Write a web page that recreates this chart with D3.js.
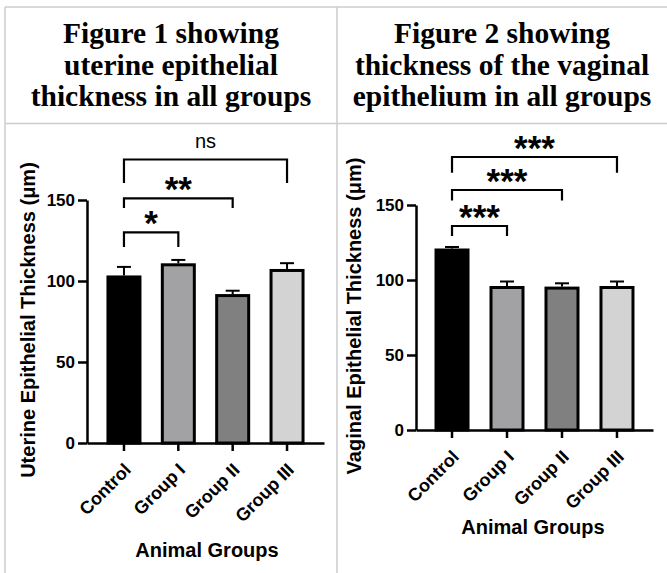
<!DOCTYPE html>
<html>
<head>
<meta charset="utf-8">
<script src="https://cdn.jsdelivr.net/npm/d3@7"></script>
<style>
  html, body { margin: 0; padding: 0; background: #fff; }
  svg { display: block; }
  .hdr { font-family: "Liberation Serif", "Times New Roman", serif; font-weight: bold; font-size: 29.5px; fill: #000; }
  .ax text { font-family: "Liberation Sans", Arial, sans-serif; font-weight: bold; font-size: 17px; fill: #000; }
  .lab { font-family: "Liberation Sans", Arial, sans-serif; font-weight: bold; fill: #000; }
</style>
</head>
<body>
<script>
// ---------------- data ----------------
const categories = ["Control", "Group I", "Group II", "Group III"];
const barColors = ["#000000", "#a2a2a5", "#808080", "#d3d3d3"];
const yTicks = [0, 50, 100, 150];

// Figure 1: uterine epithelial thickness (mean, upper error)
const uterineMean = [102.5, 110, 91, 106.5];
const uterineErr  = [6.2, 3, 3, 4.5];
// significance brackets: [from, to, bracket level, drop level, label]
const uterineSig = [
  ["Control", "Group I",   130, 121, "*"],
  ["Control", "Group II",  151, 145, "**"],
  ["Control", "Group III", 175, 160.5, "ns"]
];

// Figure 2: vaginal epithelial thickness
const vaginalMean = [120, 95, 94.6, 95];
const vaginalErr  = [2, 4, 3.2, 4];
const vaginalSig = [
  ["Control", "Group I",   136, 129.3, "***"],
  ["Control", "Group II",  160, 153, "***"],
  ["Control", "Group III", 182, 171.5, "***"]
];

const headers = [
  ["Figure 1 showing", "uterine epithelial", "thickness in all groups"],
  ["Figure 2 showing", "thickness of the vaginal", "epithelium in all groups"]
];
const yTitles = ["Uterine Epithelial Thickness (\u03bcm)", "Vaginal Epithelial Thickness (\u03bcm)"];
const xTitle = "Animal Groups";

// ---------------- drawing ----------------
const W = 667, H = 573;
const svg = d3.select("body").append("svg").attr("width", W).attr("height", H);

// table borders
const border = "#cccccc";
const gB = svg.append("g").attr("stroke", border).attr("stroke-width", 1.5);
gB.append("line").attr("x1", 5).attr("x2", W).attr("y1", 7).attr("y2", 7);
gB.append("line").attr("x1", 5).attr("x2", W).attr("y1", 123.5).attr("y2", 123.5);
gB.append("line").attr("x1", 5).attr("x2", 5).attr("y1", 7).attr("y2", H);
gB.append("line").attr("x1", 337).attr("x2", 337).attr("y1", 7).attr("y2", H);

// headers
const hdrCenters = [171, 502];
const hdrBase = [43, 75, 106];
headers.forEach((lines, i) => {
  lines.forEach((t, j) => {
    svg.append("text").attr("class", "hdr")
      .attr("x", hdrCenters[i]).attr("y", hdrBase[j])
      .attr("text-anchor", "middle").text(t);
  });
});

function drawChart(cfg) {
  const g = svg.append("g");
  const y = d3.scaleLinear().domain([0, 150]).range([cfg.y0, cfg.y150]);
  const x = d3.scaleBand().domain(categories).range([cfg.xL, cfg.xR])
    .paddingInner(0).paddingOuter(cfg.po);
  const cx = d => x(d) + x.bandwidth() / 2;

  // bars
  const barW = 32;
  g.selectAll("rect.bar").data(cfg.mean).join("rect")
    .attr("x", (d, i) => cx(categories[i]) - barW / 2)
    .attr("y", d => y(d))
    .attr("width", barW)
    .attr("height", d => y(0) - y(d))
    .attr("fill", (d, i) => barColors[i])
    .attr("stroke", "#000").attr("stroke-width", 3);

  // error bars (upper only)
  cfg.mean.forEach((m, i) => {
    const c = cx(categories[i]);
    g.append("line").attr("x1", c).attr("x2", c)
      .attr("y1", y(m) - 1.5).attr("y2", y(m + cfg.err[i]))
      .attr("stroke", "#000").attr("stroke-width", 2);
    g.append("line").attr("x1", c - 7).attr("x2", c + 7)
      .attr("y1", y(m + cfg.err[i])).attr("y2", y(m + cfg.err[i]))
      .attr("stroke", "#000").attr("stroke-width", 2);
  });

  // y axis
  const ya = g.append("g").attr("class", "ax")
    .attr("transform", `translate(${cfg.xL},0)`)
    .call(d3.axisLeft(y).tickValues(yTicks).tickSize(9).tickSizeOuter(0).tickPadding(3));
  ya.selectAll("path,line").attr("stroke", "#000").attr("stroke-width", 2.5);

  // x axis
  const xa = g.append("g").attr("class", "ax")
    .attr("transform", `translate(0,${cfg.y0})`)
    .call(d3.axisBottom(x).tickSize(8).tickSizeOuter(0).tickFormat(""));
  xa.selectAll("path,line").attr("stroke", "#000").attr("stroke-width", 2.5);

  // x tick labels rotated
  categories.forEach(c => {
    g.append("text").attr("class", "lab").style("font-size", "18px")
      .attr("text-anchor", "end")
      .attr("transform", `translate(${cx(c) + 8},${cfg.y0 + 28}) rotate(-45)`)
      .text(c);
  });

  // titles
  g.append("text").attr("class", "lab").style("font-size", "20px")
    .attr("text-anchor", "middle")
    .attr("x", (cfg.xL + cfg.xR) / 2).attr("y", cfg.xTitleY)
    .attr("transform", `translate(${cfg.xTitleDx},0)`)
    .text(xTitle);
  g.append("text").attr("class", "lab").style("font-size", "20px")
    .attr("text-anchor", "middle")
    .attr("transform", `translate(${cfg.yTitleX},${cfg.yTitleY}) rotate(-90)`)
    .text(cfg.yTitle);

  // significance brackets
  cfg.sig.forEach(s => {
    const a = cx(s[0]), b = cx(s[1]);
    const yl = y(s[2]), yd = y(s[3]);
    g.append("path")
      .attr("d", `M${a},${yd}V${yl}H${b}V${yd}`)
      .attr("fill", "none").attr("stroke", "#000").attr("stroke-width", 2.2);
    const mid = (a + b) / 2;
    if (s[4] === "ns") {
      g.append("text").attr("x", mid).attr("y", yl - 12)
        .attr("text-anchor", "middle")
        .style("font-family", "Liberation Sans, Arial, sans-serif")
        .style("font-size", "20px").text(s[4]);
    } else {
      g.append("text").attr("x", mid).attr("y", yl + 3)
        .attr("text-anchor", "middle")
        .style("font-family", "Liberation Sans, Arial, sans-serif")
        .style("font-weight", "bold")
        .style("font-size", "35px").text(s[4]);
    }
  });
}

drawChart({
  mean: uterineMean, err: uterineErr, sig: uterineSig,
  y0: 443, y150: 200, xL: 87, xR: 324, po: 0.18,
  xTitleY: 557, xTitleDx: 1.5,
  yTitle: yTitles[0], yTitleX: 35, yTitleY: 320
});
drawChart({
  mean: vaginalMean, err: vaginalErr, sig: vaginalSig,
  y0: 430, y150: 205, xL: 416, xR: 653, po: 0.155,
  xTitleY: 534, xTitleDx: -1.5,
  yTitle: yTitles[1], yTitleX: 361, yTitleY: 316
});
</script>
</body>
</html>
